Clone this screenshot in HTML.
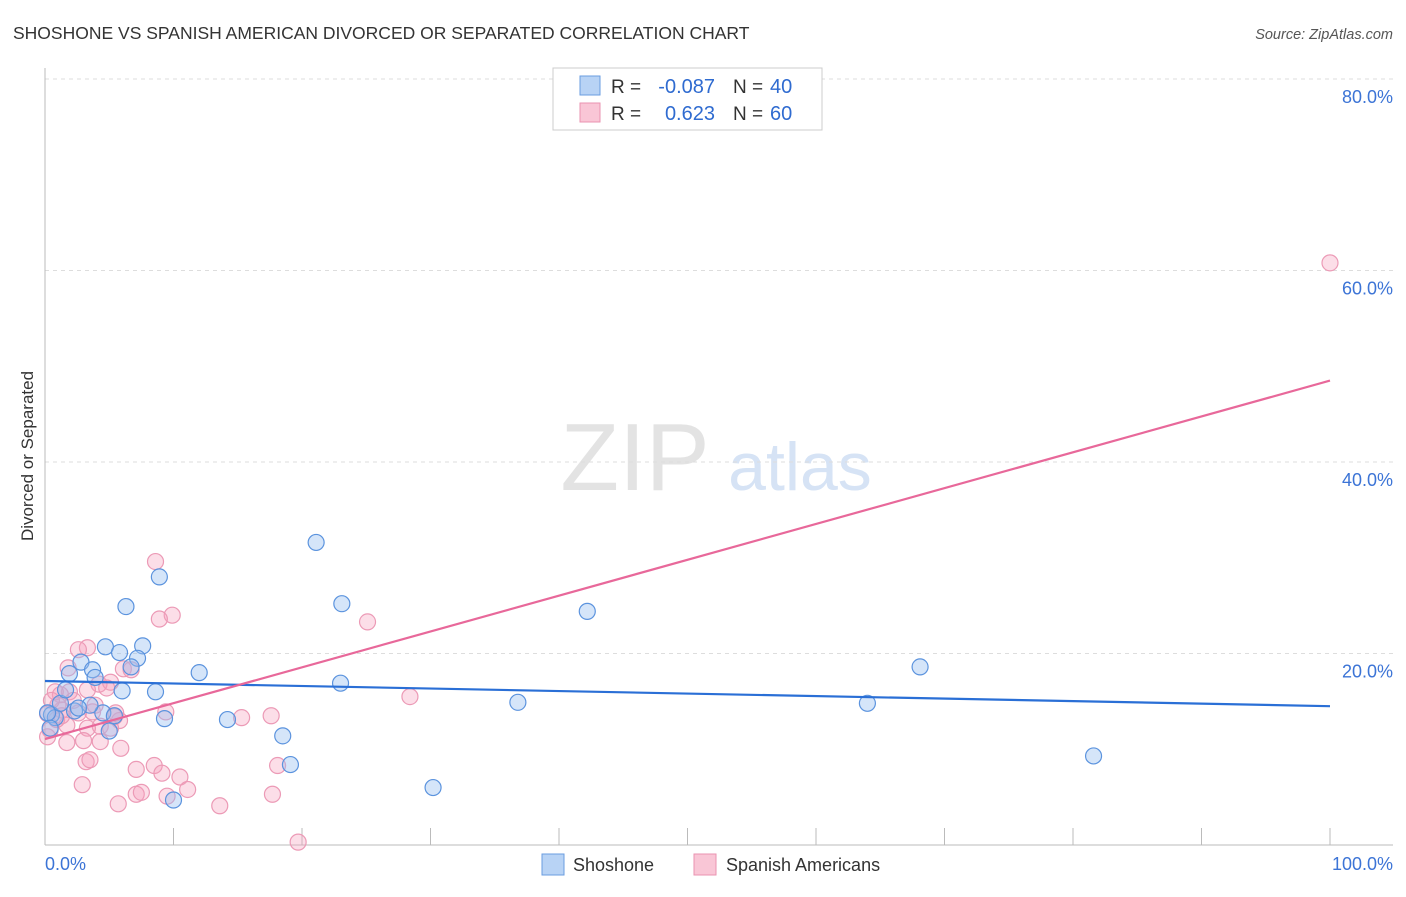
<!DOCTYPE html>
<html><head><meta charset="utf-8"><style>
body{margin:0;background:#fff;font-family:"Liberation Sans",sans-serif;}
svg text{font-family:"Liberation Sans",sans-serif;}
</style></head><body>
<svg id="chart" width="1406" height="892" xmlns="http://www.w3.org/2000/svg">
<text x="13" y="39" font-size="17.5" fill="#333">SHOSHONE VS SPANISH AMERICAN DIVORCED OR SEPARATED CORRELATION CHART</text>
<text x="1393" y="39" font-size="14.5" fill="#555" font-style="italic" text-anchor="end">Source: ZipAtlas.com</text>
<text transform="translate(33,456) rotate(-90)" font-size="17" fill="#333" text-anchor="middle">Divorced or Separated</text>
<g>
<text x="635" y="490" font-size="96" fill="#e3e3e3" font-family="Liberation Serif" text-anchor="middle">ZIP</text>
<text x="800" y="490" font-size="68" fill="#d6e3f5" text-anchor="middle">atlas</text>
</g>
<g id="grid"></g>
<g id="axes"></g>
<g id="pts"></g>
<g id="lines"></g>
<g>
<rect x="553" y="68" width="269" height="62" fill="#fff" stroke="#ccc"/>
<rect x="580" y="76" width="20" height="19" fill="#b8d3f5" stroke="#6a9de0"/>
<rect x="580" y="103" width="20" height="19" fill="#f9c6d6" stroke="#ea93b0"/>
<text x="611" y="93" font-size="19" fill="#333">R =</text>
<text x="715" y="93" font-size="20" fill="#2f6bd0" text-anchor="end">-0.087</text>
<text x="733" y="93" font-size="19" fill="#333">N =</text>
<text x="770" y="93" font-size="20" fill="#2f6bd0">40</text>
<text x="611" y="120" font-size="19" fill="#333">R =</text>
<text x="715" y="120" font-size="20" fill="#2f6bd0" text-anchor="end">0.623</text>
<text x="733" y="120" font-size="19" fill="#333">N =</text>
<text x="770" y="120" font-size="20" fill="#2f6bd0">60</text>
</g>
<g>
<rect x="542" y="854" width="22" height="21" fill="#b8d3f5" stroke="#6a9de0"/>
<text x="573" y="871" font-size="18" fill="#333">Shoshone</text>
<rect x="694" y="854" width="22" height="21" fill="#f9c6d6" stroke="#ea93b0"/>
<text x="726" y="871" font-size="18" fill="#333">Spanish Americans</text>
</g>
</svg>
<script>
const yTicks=[20,40,60,80];
const yTickLabels=["20.0%","40.0%","60.0%","80.0%"];
const xTickLabels=["0.0%","100.0%"];
const shoX=[21.1,8.9,6.3,23.1,42.2,4.7,7.6,5.8,7.2,6.7,12.0,68.1,1.9,2.8,3.7,3.9,23.0,6.0,8.6,36.8,64.0,4.5,5.4,14.2,9.3,18.5,5.0,19.1,81.6,30.2,10.0,0.5,0.8,3.5,1.2,2.3,0.2,0.4,2.6,1.6];
const shoY=[31.6,28.0,24.9,25.2,24.4,20.7,20.8,20.1,19.5,18.6,18.0,18.6,17.9,19.1,18.3,17.5,16.9,16.1,16.0,14.9,14.8,13.8,13.5,13.1,13.2,11.4,11.9,8.4,9.3,6.0,4.7,13.6,13.3,14.6,14.8,14.0,13.8,12.2,14.3,16.2];
const spaX=[100,8.6,9.9,8.9,25.1,3.3,2.6,1.8,6.1,4.2,6.7,5.1,3.3,1.9,1.2,0.8,28.4,1.3,2.6,3.7,5.4,15.3,17.6,9.4,4.3,3.3,5.8,1.7,0.4,0.2,1.7,3.0,4.3,5.9,3.2,3.5,7.1,8.5,9.1,10.5,2.9,7.1,7.5,9.5,11.1,5.7,13.6,18.1,17.7,19.7,0.9,1.0,1.3,0.5,2.2,0.2,5.1,5.5,4.8,3.9];
const spaY=[60.8,29.6,24.0,23.6,23.3,20.6,20.4,18.5,18.4,16.8,18.3,17.0,16.2,16.0,15.7,16.0,15.5,14.1,13.8,13.9,13.4,13.3,13.5,13.9,12.4,12.2,13.0,12.5,12.0,11.3,10.7,10.9,10.8,10.1,8.7,8.9,7.9,8.3,7.5,7.1,6.3,5.3,5.5,5.1,5.8,4.3,4.1,8.3,5.3,0.3,13.1,14.6,13.5,15.1,15.1,13.7,12.2,13.8,16.4,14.6];
const shoTrend=[17.13,14.5];
const spaTrend=[11.07,48.5];
const NS="http://www.w3.org/2000/svg";
const X=v=>45+v*12.85, Y=v=>845-v*9.575;
function mk(tag,attrs,parent){const e=document.createElementNS(NS,tag);for(const k in attrs)e.setAttribute(k,attrs[k]);document.getElementById(parent).appendChild(e);return e;}
yTicks.forEach((t,i)=>{
 const g=mk('line',{x1:45,x2:1393,y1:Y(t),y2:Y(t),stroke:'#ddd','stroke-dasharray':'4,4'},'grid');
 
 
 const l=mk('text',{x:1393,y:Y(t)+24,'font-size':18,fill:'#3c74d6','text-anchor':'end'},'grid');
 
 
 l.textContent=yTickLabels[i];
});
const ax=mk('line',{x1:45,x2:45,y1:68,y2:845,stroke:'#bbb'},'axes');


const bx=mk('line',{x1:45,x2:1393,y1:845,y2:845,stroke:'#bbb'},'axes');


for(let i=0;i<=10;i++){const t=mk('line',{x1:X(i*10),x2:X(i*10),y1:828,y2:845,stroke:'#bbb'},'axes');
 
 }
const xl0=mk('text',{x:45,y:870,'font-size':18,fill:'#3c74d6'},'axes');


xl0.textContent=xTickLabels[0];
const xl1=mk('text',{x:1393,y:870,'font-size':18,fill:'#3c74d6','text-anchor':'end'},'axes');


xl1.textContent=xTickLabels[1];
spaX.forEach((v,i)=>{const c=mk('circle',{cx:X(v),cy:Y(spaY[i]),r:8,fill:'rgba(245,160,190,0.35)',stroke:'#ec9ab6','stroke-width':1.2},'pts');
 
 });
shoX.forEach((v,i)=>{const c=mk('circle',{cx:X(v),cy:Y(shoY[i]),r:8,fill:'rgba(150,190,240,0.4)',stroke:'#5b93de','stroke-width':1.2},'pts');
 
 });
const l1=mk('line',{x1:X(0),x2:X(100),y1:Y(shoTrend[0]),y2:Y(shoTrend[1]),stroke:'#2a6fd6','stroke-width':2.2},'lines');


const l2=mk('line',{x1:X(0),x2:X(100),y1:Y(spaTrend[0]),y2:Y(spaTrend[1]),stroke:'#e8689a','stroke-width':2.2},'lines');


</script>
</body></html>
